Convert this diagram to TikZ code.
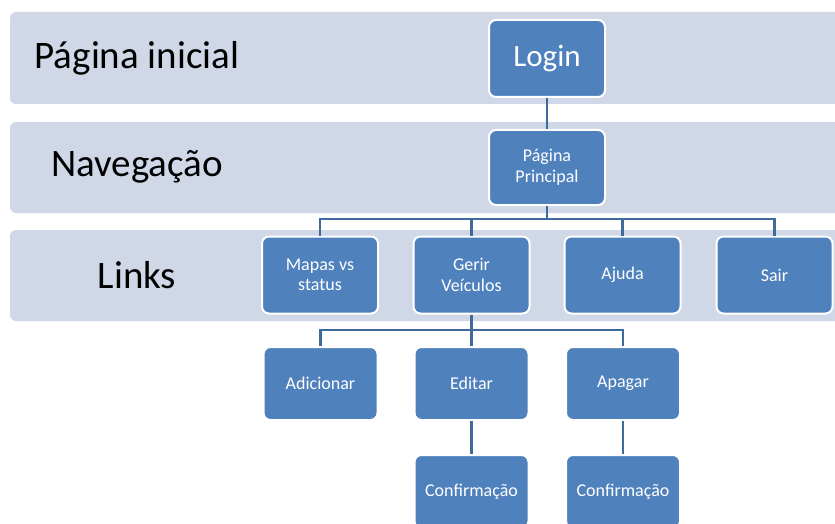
\documentclass[tikz,border=0pt]{standalone}
\usepackage{fontspec}
\setmainfont{Carlito}
\usetikzlibrary{positioning}
\definecolor{bandfill}{HTML}{D0D8E8}
\definecolor{boxfill}{HTML}{4F81BD}
\definecolor{linkline}{HTML}{3E6A9C}

\begin{document}
\begin{tikzpicture}[
x=1pt,y=-1pt,
band/.style={
fill=bandfill,
rounded corners=6pt
},
bandlabel/.style={
font=\fontsize{39}{44}\selectfont,
text=black
},
place/.style={
rectangle,
rounded corners=7pt,
minimum width=114pt,
minimum height=75pt,
line width=2pt,
draw=white,
fill=boxfill,
text=white,
align=center,
font=\fontsize{18}{20.5}\selectfont
},
conn/.style={
line width=2.5pt,
draw=linkline
}]

\useasboundingbox (0,0) rectangle (835,524);
\clip (0,0) rectangle (835,524);

\fill[band] (10,12) rectangle (850,104);
\fill[band] (10,122) rectangle (850,213);
\fill[band] (10,230) rectangle (850,321);

\node[bandlabel] (t1) at (137,58) {Página inicial};
\node[bandlabel] (t2) at (137,167) {Navegação};
\node[bandlabel] (t3) at (137,275) {Links};

\node[place,minimum width=116pt,minimum height=77pt,font=\fontsize{31}{34}\selectfont] (login) at (547,58.5) {Login};
\node[place,minimum width=116pt] (princ) at (547,167.5) {Página\\Principal};

\node[place,minimum width=116pt,minimum height=77pt] (mapas) at (320,275) {Mapas vs\\status};
\node[place,minimum width=116pt,minimum height=77pt] (gerir) at (471.5,275) {Gerir\\Veículos};
\node[place,minimum width=116pt,minimum height=77pt] (ajuda) at (622.5,275) {Ajuda};
\node[place,minimum width=116pt,minimum height=77pt] (sair) at (774.5,275) {Sair};

\node[place,minimum height=73pt] (adic) at (320.5,383.5) {Adicionar};
\node[place,minimum height=73pt] (edit) at (471.5,383.5) {Editar};
\node[place,minimum height=73pt] (apag) at (623,383.5) {Apagar};

\node[place,minimum height=73pt] (conf1) at (471.5,491.5) {Confirmação};
\node[place,minimum height=73pt] (conf2) at (623,491.5) {Confirmação};

\coordinate (bar1) at (547,219);
\coordinate (bar2) at (471.5,330);

\draw[conn] (login) -- (princ);
\draw[conn] (princ.south) -- (bar1);
\foreach \n in {mapas,gerir,ajuda,sair}
\draw[conn] (bar1) -| (\n.north);
\draw[conn] (gerir.south) -- (bar2);
\foreach \n in {adic,edit,apag}
\draw[conn] (bar2) -| (\n.north);
\draw[conn] (edit) -- (conf1);
\draw[conn] (apag) -- (conf2);

\end{tikzpicture}
\end{document}
